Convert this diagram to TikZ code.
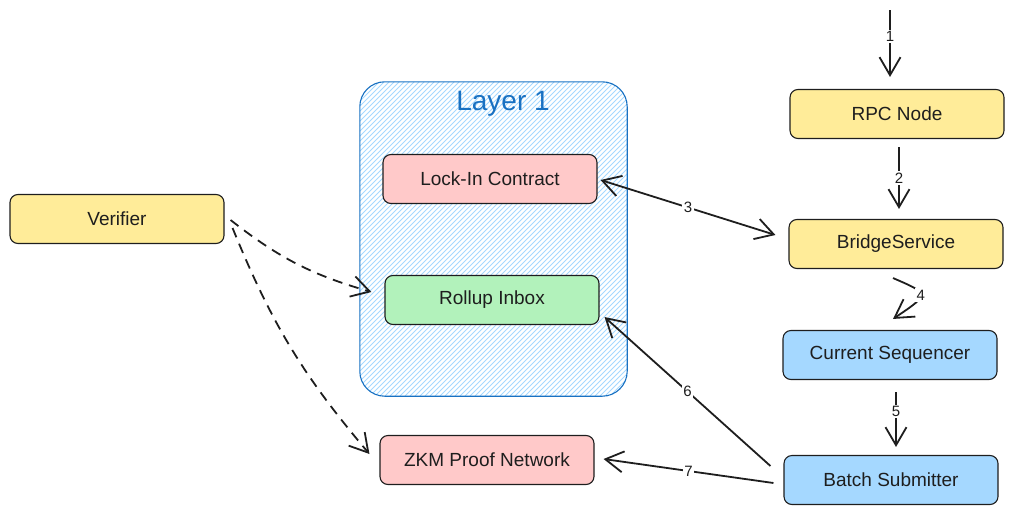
\documentclass[tikz,border=0pt]{standalone}
\usepackage{fontspec}
\setmainfont{Liberation Sans}
\usetikzlibrary{arrows.meta,calc}
\definecolor{ink}{HTML}{1E1E1E}
\definecolor{cyellow}{HTML}{FFEC99}
\definecolor{cred}{HTML}{FFC9C9}
\definecolor{cgreen}{HTML}{B2F2BB}
\definecolor{cblue}{HTML}{A5D8FF}
\definecolor{lblue}{HTML}{1971C2}
\definecolor{hatch}{HTML}{A5D8FF}
\begin{document}
\begin{tikzpicture}[x=1pt,y=-1pt,
  box/.style={draw=ink, line width=1.1pt, rounded corners=8pt, minimum width=214pt, minimum height=49pt, inner sep=0pt, font=\fontsize{19}{21}\selectfont, text=ink},
  barb/.tip={Straight Barb[length=18pt,width=21pt,line width=1.8pt]},
  flow/.style={draw=ink, line width=1.8pt, -barb},
  twoway/.style={draw=ink, line width=1.8pt, barb-barb},
  dflow/.style={flow, dash pattern=on 10pt off 7pt},
  lbl/.style={fill=white, inner sep=1.5pt, font=\fontsize{15}{16}\selectfont, text=ink},
  hatchline/.style={draw=hatch, line width=0.9pt},
]
\useasboundingbox (0,0) rectangle (1014,514);

% Layer 1 container
\node[minimum width=267pt, minimum height=314pt, inner sep=0pt] (l1) at (493.5,239) {};
\begin{scope}
  \clip[rounded corners=25pt] (l1.south west) rectangle (l1.north east);
  \foreach \k in {-420,-415,...,300} {
    \draw[hatchline] (360+\k,396) -- (360+\k+330,66);
  }
\end{scope}
\draw[draw=lblue, line width=1.1pt, rounded corners=25pt] (l1.south west) rectangle (l1.north east);
\node[text=lblue, font=\fontsize{28}{30}\selectfont] (l1title) at (503,104) {Layer 1};

% boxes
\node[box, fill=cred]    (lock)   at (490,179) {Lock-In Contract};
\node[box, fill=cgreen]  (inbox)  at (492,300) {Rollup Inbox};
\node[box, fill=cred]    (zkm)    at (487,460) {ZKM Proof Network};
\node[box, fill=cyellow] (ver)    at (117,219) {Verifier};
\node[box, fill=cyellow] (rpc)    at (897,114) {RPC Node};
\node[box, fill=cyellow] (bridge) at (896,244) {BridgeService};
\node[box, fill=cblue]   (cseq)   at (890,355) {Current Sequencer};
\node[box, fill=cblue]   (batch)  at (891,480) {Batch Submitter};

% free start of arrow 1
\coordinate (in1) at (890,10);

% connectors
\draw[flow] (in1) -- node[lbl, pos=0.4] {1} ($(rpc.north)+(-7,-12)$);
\draw[flow] ($(rpc.south)+(2,8)$) -- node[lbl] {2} ($(bridge.north)+(3,-10)$);
\draw[twoway] ($(lock.east)+(3,1)$) -- node[lbl] {3} ($(bridge.west)+(-13,-9)$);
\draw[flow] ($(bridge.south)+(-3,9)$) .. controls (930,294) .. node[lbl] {4} ($(cseq.north)+(3,-11)$);
\draw[flow] ($(cseq.south)+(6,12)$) -- node[lbl, pos=0.35] {5} ($(batch.north)+(5,-8)$);
\draw[flow] ($(batch.west)+(-13,-14)$) -- node[lbl] {6} ($(inbox.south east)+(5,-8)$);
\draw[flow] ($(batch.west)+(-10,3)$) -- node[lbl] {7} ($(zkm.east)+(9,-1)$);

\draw[dflow] ($(ver.east)+(6,1)$) to[bend right=11] ($(inbox.west)+(-13,-8)$);
\draw[dflow] ($(ver.east)+(8,9)$) to[bend right=9] ($(zkm.west)+(-10,-6)$);
\end{tikzpicture}
\end{document}
